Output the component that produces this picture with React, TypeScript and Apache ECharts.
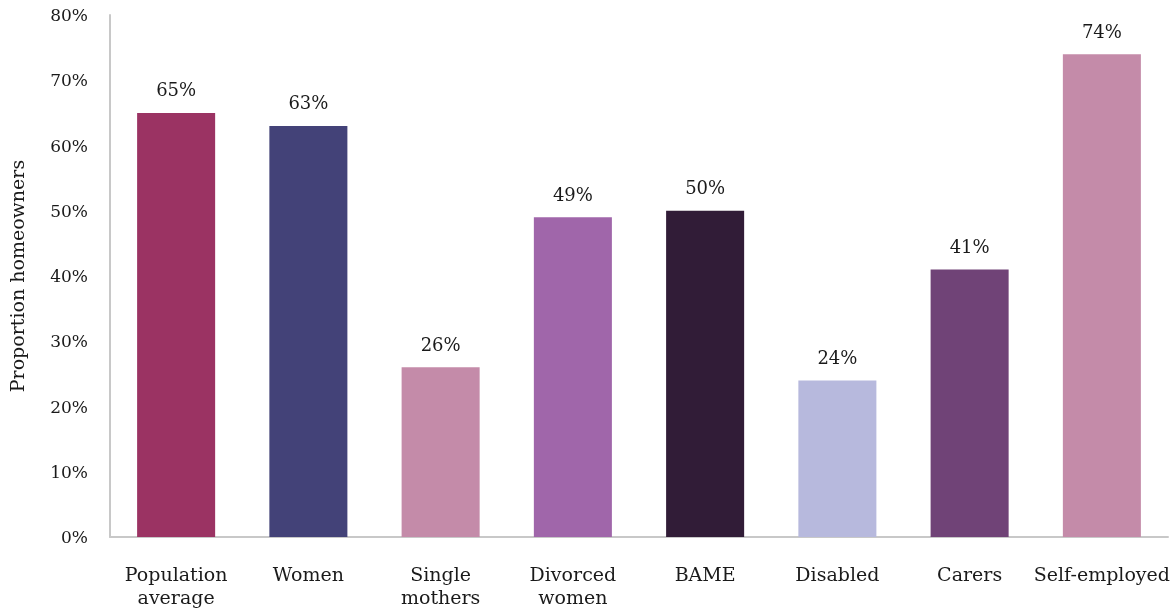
import React, { useEffect, useRef } from "react";
import * as echarts from "echarts";

const categories = [
  "Population\naverage",
  "Women",
  "Single\nmothers",
  "Divorced\nwomen",
  "BAME",
  "Disabled",
  "Carers",
  "Self-employed",
];
const values = [65, 63, 26, 49, 50, 24, 41, 74];
const barColors = [
  "#9B3363",
  "#434278",
  "#C48BA9",
  "#A066AA",
  "#311C37",
  "#B7B9DD",
  "#704377",
  "#C48BA9",
];

const FONT = "'DejaVu Serif', serif";
const TEXT = "#1a1a1a";

export default function App() {
  const ref = useRef<HTMLDivElement>(null);

  useEffect(() => {
    if (!ref.current) return;
    const chart = echarts.init(ref.current, null, { renderer: "svg" });
    chart.setOption({
      animation: false,
      textStyle: { fontFamily: FONT },
      grid: {
        left: 110,
        right: 7,
        top: 15,
        bottom: 72,
        containLabel: false,
        outerBoundsMode: "none",
      },
      xAxis: {
        type: "category",
        data: categories,
        axisLine: { show: true, lineStyle: { color: "#c8c8c8", width: 2 } },
        axisTick: { show: false },
        axisLabel: {
          color: TEXT,
          fontFamily: FONT,
          fontSize: 19,
          lineHeight: 23,
          margin: 25,
          interval: 0,
        },
      },
      yAxis: {
        type: "value",
        min: 0,
        max: 80,
        interval: 10,
        name: "Proportion homeowners",
        nameLocation: "middle",
        nameGap: 84,
        nameTextStyle: { color: TEXT, fontFamily: FONT, fontSize: 19 },
        axisLine: { show: true, lineStyle: { color: "#c8c8c8", width: 2 } },
        axisTick: { show: false },
        splitLine: { show: false },
        axisLabel: {
          color: TEXT,
          fontFamily: FONT,
          fontSize: 17,
          margin: 22,
          formatter: "{value}%",
        },
      },
      series: [
        {
          type: "bar",
          data: values.map((v, i) => ({ value: v, itemStyle: { color: barColors[i] } })),
          barWidth: "59%",
          label: {
            show: true,
            position: "top",
            distance: 14,
            color: TEXT,
            fontFamily: FONT,
            fontSize: 18,
            formatter: "{c}%",
          },
        },
      ],
    });
    return () => chart.dispose();
  }, []);

  return (
    <div
      ref={ref}
      style={{ position: "fixed", left: 0, top: 0, width: 1175, height: 609 }}
    />
  );
}
